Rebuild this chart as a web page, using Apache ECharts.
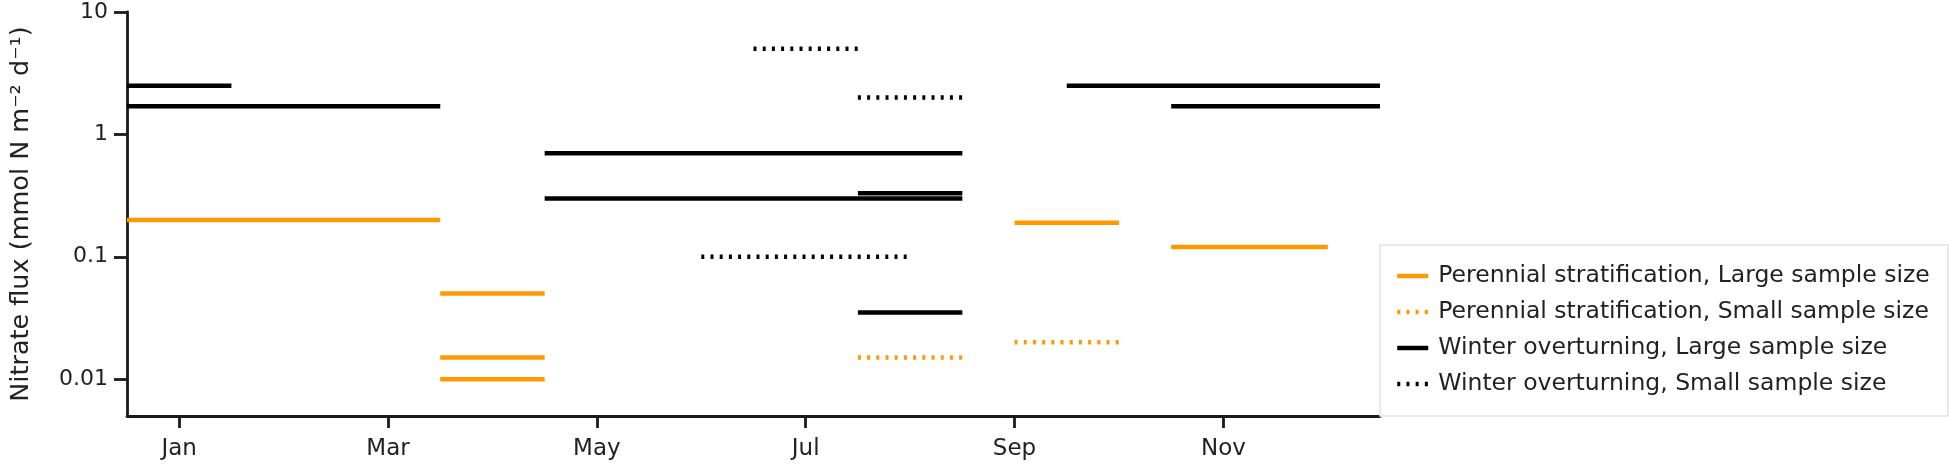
<!DOCTYPE html>
<html>
<head>
<meta charset="utf-8">
<script src="https://cdn.jsdelivr.net/npm/echarts@6/dist/echarts.min.js"></script>
<style>
html,body{margin:0;padding:0;background:#fff;}
#chart{width:1949px;height:466px;}
</style>
</head>
<body>
<div id="chart"></div>
<script>
// Month positions: month n is centred on n (Jan = 1), spans n-0.5 .. n+0.5
const monthTicks = [1, 3, 5, 7, 9, 11];
const monthLabels = ['Jan', 'Mar', 'May', 'Jul', 'Sep', 'Nov'];
const yTicks = [0.01, 0.1, 1, 10];
const yTickLabels = ['0.01', '0.1', '1', '10'];

const groupNames = [
  'Perennial stratification, Large sample size',
  'Perennial stratification, Small sample size',
  'Winter overturning, Large sample size',
  'Winter overturning, Small sample size'
];

// segments: [startMonth, endMonth, nitrate flux]
const psLarge = [
  [0.5, 3.5, 0.2],
  [3.5, 4.5, 0.05],
  [3.5, 4.5, 0.015],
  [3.5, 4.5, 0.01],
  [9, 10, 0.19],
  [10.5, 12, 0.12]
];
const psSmall = [
  [7.5, 8.5, 0.015],
  [9, 10, 0.02]
];
const woLarge = [
  [0.5, 1.5, 2.5],
  [0.5, 3.5, 1.7],
  [4.5, 8.5, 0.7],
  [4.5, 8.5, 0.3],
  [7.5, 8.5, 0.33],
  [7.5, 8.5, 0.035],
  [9.5, 12.5, 2.5],
  [10.5, 12.5, 1.7]
];
const woSmall = [
  [6.5, 7.5, 5],
  [7.5, 8.5, 2],
  [6, 8, 0.1]
];

const ORANGE = '#FF9900';
const BLACK = '#000000';
const DOT = [3, 6.2];
const styles = [
  { color: ORANGE, type: 'solid' },
  { color: ORANGE, type: DOT },
  { color: BLACK, type: 'solid' },
  { color: BLACK, type: DOT }
];
const groups = [psLarge, psSmall, woLarge, woSmall];

const series = [];
groups.forEach((segs, gi) => {
  segs.forEach(s => {
    series.push({
      type: 'line',
      name: groupNames[gi],
      data: [[s[0], s[2]], [s[1], s[2]]],
      symbol: 'none',
      showSymbol: false,
      silent: true,
      animation: false,
      color: styles[gi].color,
      lineStyle: { color: styles[gi].color, width: 4.5, type: styles[gi].type, cap: 'butt' },
      z: gi >= 2 ? 3 : 2
    });
  });
});

const FONT = 'DejaVu Sans';
const TXT = '#222222';
const AX = '#1a1a1a';

const chart = echarts.init(document.getElementById('chart'), null, { renderer: 'canvas' });
chart.setOption({
  animation: false,
  backgroundColor: '#ffffff',
  grid: { left: 121, right: 569, top: 12, bottom: 50, containLabel: false },
  xAxis: {
    type: 'value',
    min: 0.5,
    max: 12.5,
    axisLine: { show: true, onZero: false, lineStyle: { color: AX, width: 2.8 } },
    axisTick: { show: true, inside: false, length: 12, lineStyle: { color: AX, width: 2.8 }, customValues: monthTicks },
    axisLabel: {
      show: true, margin: 22, fontFamily: FONT, fontSize: 23, color: TXT,
      customValues: monthTicks,
      formatter: v => {
        let best = 0;
        monthTicks.forEach((t, i) => { if (Math.abs(t - v) < Math.abs(monthTicks[best] - v)) best = i; });
        return monthLabels[best];
      }
    },
    splitLine: { show: false }
  },
  yAxis: {
    type: 'log',
    logBase: 10,
    min: 0.005,
    max: 10,
    name: 'Nitrate flux (mmol N m\u207B\u00B2 d\u207B\u00B9)',
    nameLocation: 'middle',
    nameGap: 93,
    nameTextStyle: { fontFamily: FONT, fontSize: 25.5, color: TXT },
    axisLine: { show: true, lineStyle: { color: AX, width: 2.8 } },
    axisTick: { show: true, inside: false, length: 13, lineStyle: { color: AX, width: 2.8 }, customValues: yTicks },
    axisLabel: {
      show: true, margin: 19, fontFamily: FONT, fontSize: 22, color: TXT,
      customValues: yTicks,
      formatter: v => {
        let best = 0;
        yTicks.forEach((t, i) => { if (Math.abs(Math.log10(t) - Math.log10(v)) < Math.abs(Math.log10(yTicks[best]) - Math.log10(v))) best = i; });
        return yTickLabels[best];
      }
    },
    splitLine: { show: false }
  },
  legend: {
    show: true,
    orient: 'vertical',
    left: 1380,
    top: 245,
    align: 'left',
    padding: [19, 18, 20, 15],
    itemGap: 12,
    itemWidth: 31,
    itemHeight: 14,
    backgroundColor: '#ffffff',
    borderColor: '#e2e2e2',
    borderWidth: 1.5,
    selectedMode: false,
    textStyle: { fontFamily: FONT, fontSize: 23.5, color: TXT, padding: [0, 0, 0, 5] },
    data: groupNames.map((n, i) => ({
      name: n,
      itemStyle: { opacity: 0, color: 'transparent', borderWidth: 0 },
      lineStyle: { color: styles[i].color, width: 4.5, type: styles[i].type }
    }))
  },
  series: series
});
</script>
</body>
</html>
